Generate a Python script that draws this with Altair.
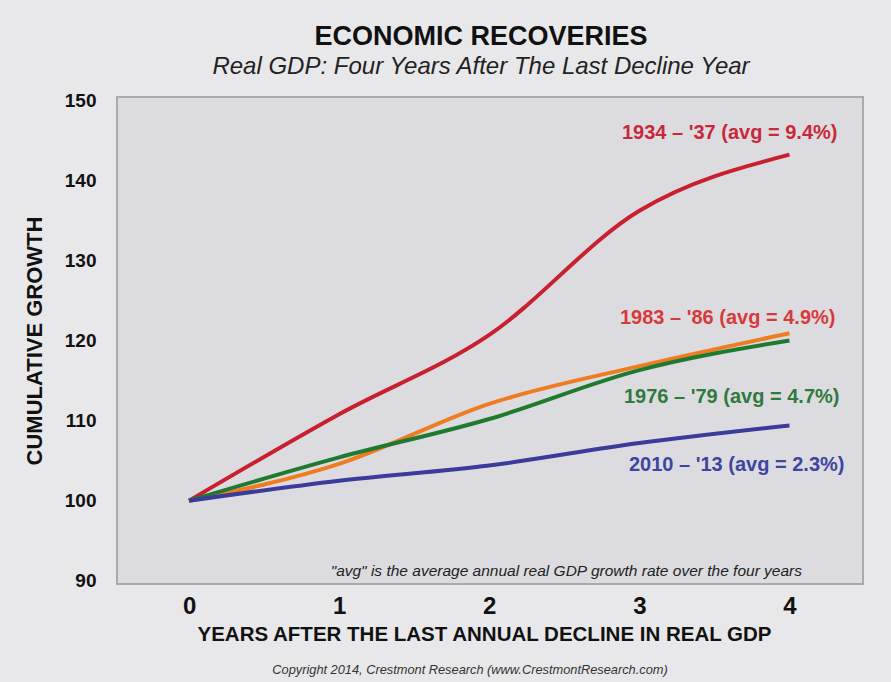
import altair as alt
import pandas as pd

years = [0, 1, 2, 3, 4]
s1934 = [100, 110.8, 120.7, 136.2, 143.2]
s1983 = [100, 104.6, 112.1, 116.8, 120.9]
s1976 = [100, 105.4, 110.2, 116.3, 120.0]
s2010 = [100, 102.5, 104.4, 107.2, 109.4]

series_names = ["1934 – '37", "1983 – '86", "1976 – '79", "2010 – '13"]
series_vals = [s1934, s1983, s1976, s2010]
labels = ["1934 – '37 (avg = 9.4%)", "1983 – '86 (avg = 4.9%)",
          "1976 – '79 (avg = 4.7%)", "2010 – '13 (avg = 2.3%)"]
line_colors = ["#c8202f", "#f07c22", "#1f7a30", "#3b3b9c"]
label_colors = ["#c9283a", "#d83a3c", "#2f7a3c", "#3d45a0"]
label_dy = [-22, -15, 56, 40]
label_dx = [48, 46, 50, 55]

rows = []
for name, vals in zip(series_names, series_vals):
    for x, v in zip(years, vals):
        rows.append({"year": x, "value": v, "series": name})
df = pd.DataFrame(rows)

FONT = "Liberation Sans"
W, H = 746, 487

xs = alt.Scale(domain=[-0.48, 4.49], nice=False, zero=False)
ys = alt.Scale(domain=[89.6, 150.4], nice=False, zero=False)

base = alt.Chart(df)

lines = base.mark_line(strokeWidth=4, interpolate="monotone").encode(
    x=alt.X("year:Q", scale=xs,
            axis=alt.Axis(values=years, format="d", title="YEARS AFTER THE LAST ANNUAL DECLINE IN REAL GDP",
                          grid=False, ticks=False, domain=False,
                          labelFont=FONT, labelFontSize=24, labelFontWeight="bold", labelColor="#111",
                          labelPadding=10,
                          titleFont=FONT, titleFontSize=20.5, titleFontWeight="bold", titleColor="#111",
                          titlePadding=6, titleX=367)),
    y=alt.Y("value:Q", scale=ys,
            axis=alt.Axis(values=[90, 100, 110, 120, 130, 140, 150], title="CUMULATIVE GROWTH",
                          grid=False, ticks=False, domain=False,
                          labelFont=FONT, labelFontSize=19, labelFontWeight="bold", labelColor="#111",
                          labelPadding=21,
                          titleFont=FONT, titleFontSize=22, titleFontWeight="bold", titleColor="#111",
                          titlePadding=18)),
    color=alt.Color("series:N", scale=alt.Scale(domain=series_names, range=line_colors), legend=None),
    detail="series:N",
)

layers = [lines]
for name, lab, col, dy, dx in zip(series_names, labels, label_colors, label_dy, label_dx):
    d = df[(df["series"] == name) & (df["year"] == 4)].copy()
    d["label"] = lab
    layers.append(
        alt.Chart(d).mark_text(align="right", baseline="middle", dx=dx, dy=dy,
                               font=FONT, fontSize=20, fontWeight="bold", color=col).encode(
            x=alt.X("year:Q", scale=xs), y=alt.Y("value:Q", scale=ys), text="label:N")
    )

note = alt.Chart(pd.DataFrame({"t": ['"avg" is the average annual real GDP growth rate over the four years']})).mark_text(
    align="right", baseline="middle", font=FONT, fontSize=15.5, fontStyle="italic", color="#222"
).encode(x=alt.value(685), y=alt.value(474), text="t:N")

copy = alt.Chart(pd.DataFrame({"t": ["Copyright 2014, Crestmont Research (www.CrestmontResearch.com)"]})).mark_text(
    align="center", baseline="middle", font=FONT, fontSize=12.8, fontStyle="italic", color="#333"
).encode(x=alt.value(353), y=alt.value(573), text="t:N")

layers += [note, copy]

chart = alt.layer(*layers).properties(
    width=W, height=H,
    title=alt.TitleParams(
        text="ECONOMIC RECOVERIES",
        subtitle="Real GDP: Four Years After The Last Decline Year",
        font=FONT, fontSize=27, fontWeight="bold", color="#111",
        subtitleFont=FONT, subtitleFontSize=24, subtitleFontStyle="italic", subtitleColor="#222",
        subtitlePadding=4, anchor="middle", offset=11, dx=-9,
    ),
    background="#e8e8ea",
    padding={"left": 117, "top": 97, "right": 28, "bottom": 98},
    autosize=alt.AutoSizeParams(type="none"),
).configure_view(
    fill="#dcdce0", stroke="#a8a8ad", strokeWidth=2
)

chart.save("out.html", embed_options={"renderer": "svg", "actions": False})
